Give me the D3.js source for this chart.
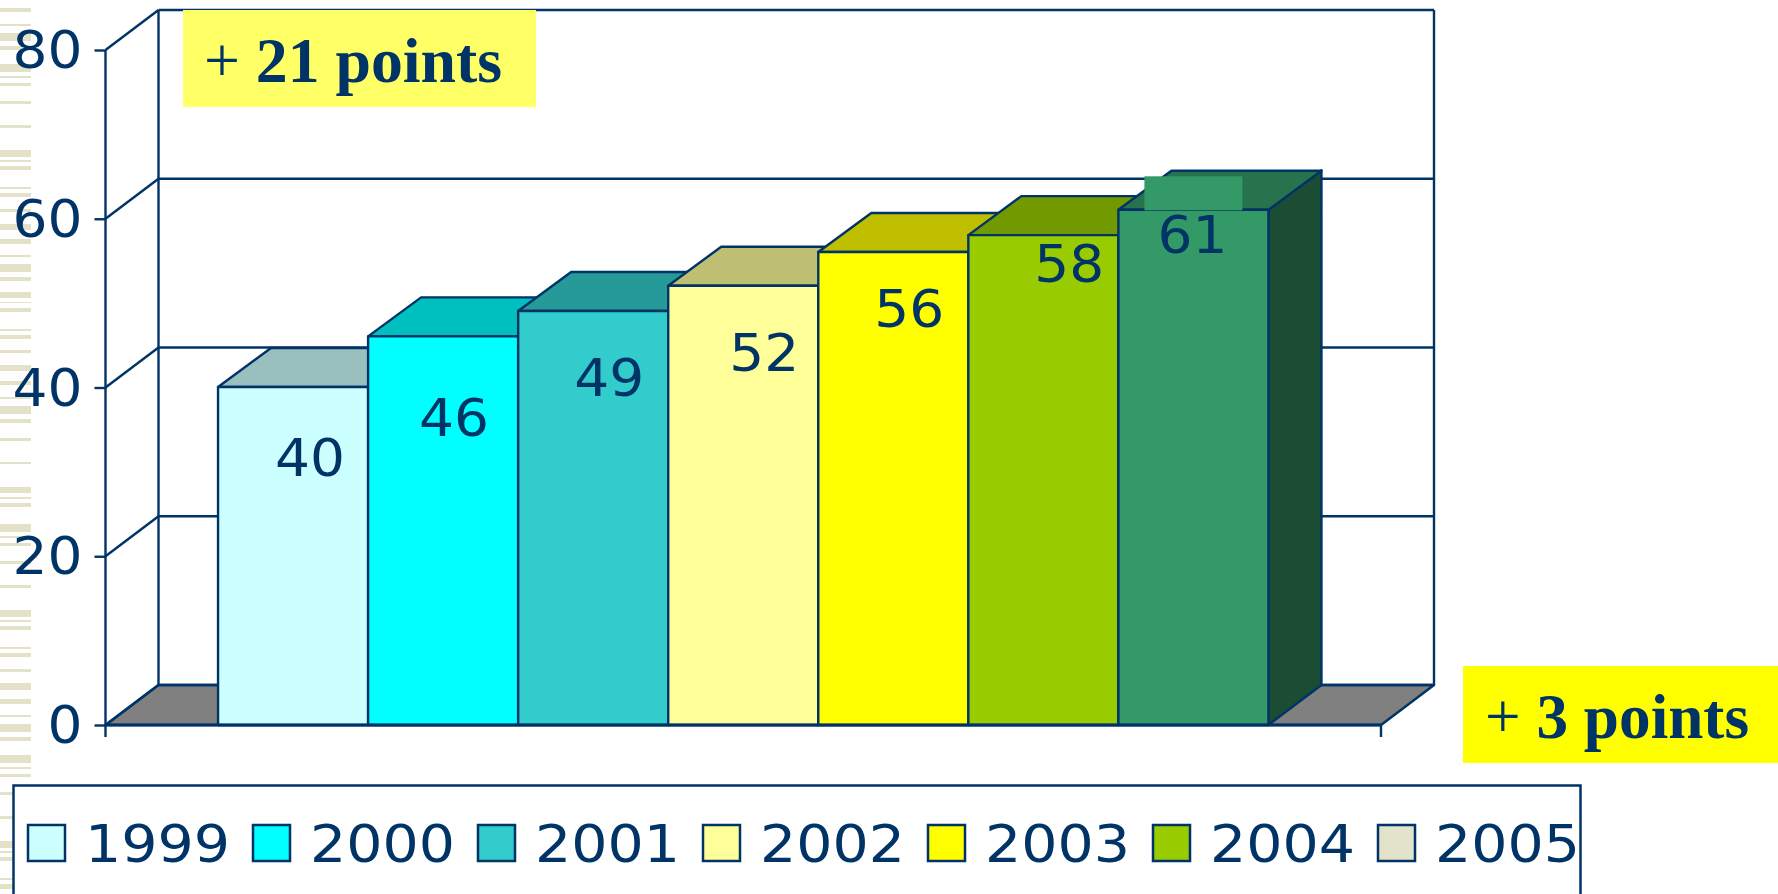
<!DOCTYPE html>
<html><head><meta charset="utf-8">
<script src="https://cdn.jsdelivr.net/npm/d3@7"></script>
<style>html,body{margin:0;padding:0;background:#fff;overflow:hidden}svg{display:block}</style>
</head><body><svg id="c" width="1778" height="894"></svg>
<script>
const years = ["1999","2000","2001","2002","2003","2004","2005"];
const values = [40,46,49,52,56,58,61];
const barColors = ["#CCFFFF","#00FFFF","#33CCCC","#FFFF99","#FFFF00","#99CC00","#339966"];
const legendColors = ["#CCFFFF","#00FFFF","#33CCCC","#FFFF99","#FFFF00","#99CC00","#E3E3CC"];
const yTicks = [0,20,40,60,80];
const category = ["all"];
const callouts = ["21 points","3 points"];

// layout (not data)
const NAVY="#003366", FONT="'DejaVu Sans',sans-serif", SERIF="'Liberation Serif',serif";
const W={l:105.5,r:1381,base:725,top:50,dx:53,dy:40,barDy:39};
const DIGIT=35;
const labelShift=[17,11,16,21,16,26,-1], labelLift=[88,99,84,85,74,46,43];
const stripeBands=[[8,12],[24,26],[33,41],[46,50],[64,72],[76,78],[83,86],[101,104],[125,128],[150,157],[160,162],[166,170],[187,189],[193,197],[209,212],[224,230],[239,244],[255,257],[264,272],[277,281],[292,298],[302,303],[308,312],[329,331],[335,339],[350,353],[365,371],[381,385],[397,399],[406,414],[419,423],[438,441],[462,464],[487,493],[497,499],[503,507],[524,532],[536,538],[543,546],[561,564],[585,588],[610,617],[620,622],[626,630],[647,649],[653,657],[669,672],[683,690],[699,704],[715,717],[724,732],[737,741],[755,763],[767,769],[774,777],[792,795],[816,819],[841,848],[851,853],[857,861],[878,880],[884,889]];

const svg=d3.select("#c");
const y=d3.scaleLinear().domain([0,80]).range([W.base,W.top]);
const x=d3.scaleBand().domain(years).range([W.l,W.r]).paddingInner(0).paddingOuter(0.75);

// decorative stripes
svg.append("g").selectAll("rect").data(stripeBands).join("rect")
  .attr("x",0).attr("width",31).attr("y",d=>d[0]).attr("height",d=>d[1]-d[0]).attr("fill","#E3E2C9");

// floor
const pts=a=>a.map(p=>p.join(",")).join(" ");
svg.append("polygon").attr("points",pts([[W.l,y(0)],[W.l+W.dx,y(0)-W.dy],[W.r+W.dx,y(0)-W.dy],[W.r,y(0)]]))
  .attr("fill","#808080").attr("stroke",NAVY).attr("stroke-width",2.5).attr("stroke-linejoin","round");

// walls and gridlines
const grid=svg.append("g").attr("stroke",NAVY).attr("stroke-width",2.4).attr("fill","none");
yTicks.forEach(t=>{
  grid.append("line").attr("x1",W.l).attr("y1",y(t)).attr("x2",W.l+W.dx).attr("y2",y(t)-W.dy);
  grid.append("line").attr("x1",W.l+W.dx).attr("y1",y(t)-W.dy).attr("x2",W.r+W.dx).attr("y2",y(t)-W.dy);
});
grid.append("line").attr("x1",W.l+W.dx).attr("y1",y(80)-W.dy).attr("x2",W.l+W.dx).attr("y2",y(0)-W.dy);
grid.append("line").attr("x1",W.r+W.dx).attr("y1",y(80)-W.dy).attr("x2",W.r+W.dx).attr("y2",y(0)-W.dy);

// axes
const axL=svg.append("g").attr("transform",`translate(${W.l},0)`)
  .call(d3.axisLeft(y).tickValues(yTicks).tickSize(11).tickPadding(12));
axL.select(".domain").remove();
axL.selectAll("line").attr("stroke",NAVY).attr("stroke-width",2.4);
axL.selectAll("text").attr("fill",NAVY).attr("font-family",FONT).attr("font-size",52).attr("dy","0.34em")
  .attr("lengthAdjust","spacingAndGlyphs").attr("textLength",d=>String(d).length*DIGIT);
svg.append("line").attr("x1",W.l).attr("x2",W.l).attr("y1",y(80)).attr("y2",y(0)+12).attr("stroke",NAVY).attr("stroke-width",2.4);
svg.append("line").attr("x1",W.r).attr("x2",W.r).attr("y1",y(0)).attr("y2",y(0)+12).attr("stroke",NAVY).attr("stroke-width",2.4);

// bars
const data=years.map((yr,i)=>({yr,v:values[i],c:barColors[i],i}));
const shade=(c,k)=>{const r=d3.rgb(c);return d3.rgb(r.r*k,r.g*k,r.b*k)};
const bars=svg.append("g").selectAll("g").data(data).join("g")
  .attr("stroke",NAVY).attr("stroke-width",2.4).attr("stroke-linejoin","round");
bars.append("polygon").attr("fill",d=>shade(d.c,.5))
  .attr("points",d=>{const a=x(d.yr)+x.bandwidth();return pts([[a,y(d.v)-1],[a+W.dx,y(d.v)-1-W.barDy],[a+W.dx,y(0)-W.dy],[a,y(0)]])});
bars.append("polygon").attr("fill",d=>shade(d.c,.75))
  .attr("points",d=>{const a=x(d.yr),b=a+x.bandwidth(),t=y(d.v)-.5;return pts([[a,t],[b,t],[b+W.dx,t-W.barDy],[a+W.dx,t-W.barDy]])});
bars.append("rect").attr("x",d=>x(d.yr)).attr("width",x.bandwidth())
  .attr("y",d=>y(d.v)-.5).attr("height",d=>y(0)-y(d.v)+.5).attr("fill",d=>d.c);

// baseline
svg.append("line").attr("x1",W.l).attr("x2",W.r).attr("y1",y(0)).attr("y2",y(0)).attr("stroke",NAVY).attr("stroke-width",3);

// patch above the last bar's label
const last=x(years[6]);
svg.append("rect").attr("x",last+26).attr("y",y(values[6])-34).attr("width",98).attr("height",34).attr("fill","#339966");

// data labels
svg.append("g").selectAll("text").data(data).join("text")
  .attr("x",d=>x(d.yr)+x.bandwidth()/2+labelShift[d.i])
  .attr("y",d=>y(d.v)+labelLift[d.i])
  .attr("text-anchor","middle").attr("fill",NAVY).attr("font-family",FONT).attr("font-size",52)
  .attr("lengthAdjust","spacingAndGlyphs").attr("textLength",d=>String(d.v).length*DIGIT)
  .text(d=>d.v);

// callouts
function callout(x0,y0,w,h,fill,tx,ty,tw,txt){
  svg.append("rect").attr("x",x0).attr("y",y0).attr("width",w).attr("height",h).attr("fill",fill);
  const t=svg.append("text").attr("x",tx).attr("y",ty).attr("fill",NAVY).attr("font-family",SERIF)
    .attr("font-size",64).attr("textLength",tw).attr("lengthAdjust","spacingAndGlyphs");
  t.append("tspan").text("+ ");
  t.append("tspan").attr("font-weight","bold").text(txt);
}
callout(183,10,353,97,"#FFFF66",204,82,298,callouts[0]);
callout(1463,666,315,97,"#FFFF00",1485,738,264,callouts[1]);

// legend
svg.append("path").attr("d","M13.5,894V785.5H1580.5V894").attr("fill","#fff").attr("stroke",NAVY).attr("stroke-width",2.5);
const lg=svg.append("g").selectAll("g").data(years).join("g")
  .attr("transform",(d,i)=>`translate(${28+225*i},0)`);
lg.append("rect").attr("x",0).attr("y",825).attr("width",37).attr("height",36)
  .attr("fill",(d,i)=>legendColors[i]).attr("stroke",NAVY).attr("stroke-width",2.5);
lg.append("text").attr("x",57).attr("y",862).attr("fill",NAVY).attr("font-family",FONT).attr("font-size",52)
  .attr("lengthAdjust","spacingAndGlyphs").attr("textLength",145).text(d=>d);
</script></body></html>
